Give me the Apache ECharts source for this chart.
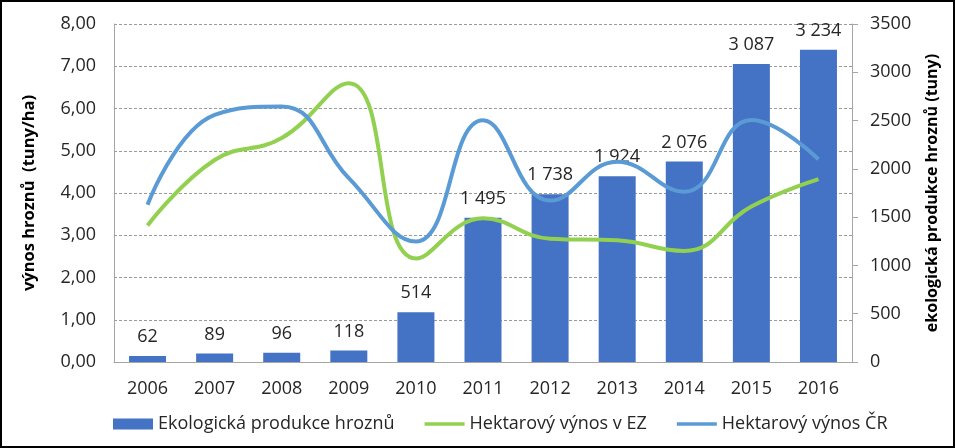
<!DOCTYPE html>
<html>
<head>
    <meta charset="utf-8">
    <script src="https://cdn.jsdelivr.net/npm/echarts@6/dist/echarts.min.js"></script>
    <style type="text/css">
        html, body { margin: 0; padding: 0; background: #fff; }
        #chart {
            width: 955px;
            height: 448px;
            box-sizing: border-box;
            border: 2px solid #000;
        }
    </style>
</head>
<body>
<div id="chart"></div>
<script type="text/javascript">
    // roky
    var years = ['2006', '2007', '2008', '2009', '2010', '2011', '2012', '2013', '2014', '2015', '2016'];
    // ekologická produkce hroznů (tuny) - pravá osa
    var produkce = [62, 89, 96, 118, 514, 1495, 1738, 1924, 2076, 3087, 3234];
    // hektarový výnos v EZ (tuny/ha)
    var vynosEZ = [3.23, 4.78, 5.30, 6.60, 2.45, 3.40, 2.92, 2.88, 2.63, 3.68, 4.33];
    // hektarový výnos ČR (tuny/ha)
    var vynosCR = [3.72, 5.85, 6.05, 4.35, 2.85, 5.72, 3.82, 4.74, 4.03, 5.73, 4.80];

    var font = 'Open Sans';
    var textColor = '#262626';
    // tenká čára jako ikona legendy
    var lineIcon = 'path://M0,0L40,0L40,3.5L0,3.5Z';

    function carka(v) {
        return v.toFixed(2).replace('.', ',');
    }
    function tisice(v) {
        return String(v).replace(/\B(?=(\d{3})+(?!\d))/g, ' ');
    }

    var myChart = echarts.init(document.getElementById('chart'));
    myChart.setOption({
        animation: false,
        textStyle: { fontFamily: font },
        grid: { left: 112, right: 101, top: 22, bottom: 84 },
        legend: {
            bottom: 8,
            left: 106,
            itemGap: 30,
            itemWidth: 40,
            itemHeight: 11,
            textStyle: { fontFamily: font, fontSize: 18, color: textColor },
            data: [
                { name: 'Ekologická produkce hroznů', icon: 'rect' },
                { name: 'Hektarový výnos v EZ', icon: lineIcon },
                { name: 'Hektarový výnos ČR', icon: lineIcon }
            ]
        },
        xAxis: {
            type: 'category',
            data: years,
            axisLine: { lineStyle: { color: '#a6a6a6', width: 1 } },
            axisTick: { show: false },
            axisLabel: { fontSize: 18, color: textColor, margin: 18 }
        },
        yAxis: [
            {
                type: 'value',
                min: 0, max: 8, interval: 1,
                name: 'výnos hroznů  (tuny/ha)',
                nameLocation: 'middle',
                nameGap: 76,
                nameTextStyle: { fontSize: 16.5, fontWeight: 'bold', color: '#000' },
                axisLine: { show: true, lineStyle: { color: '#a6a6a6' } },
                axisTick: { show: false },
                axisLabel: { fontSize: 18, color: textColor, margin: 18, formatter: carka },
                splitLine: { lineStyle: { color: '#9a9a9a', type: [3, 2], width: 1 } }
            },
            {
                type: 'value',
                min: 0, max: 3500, interval: 500,
                name: 'ekologická produkce hroznů (tuny)',
                nameLocation: 'middle',
                nameGap: 72,
                nameTextStyle: { fontSize: 16, fontWeight: 'bold', color: '#000' },
                position: 'right',
                axisLine: { show: true, lineStyle: { color: '#a6a6a6' } },
                axisTick: { show: true, inside: false, length: 6, lineStyle: { color: '#a6a6a6' } },
                axisLabel: { fontSize: 18, color: textColor, margin: 18, formatter: function (v) { return String(v); } },
                splitLine: { show: false }
            }
        ],
        series: [
            {
                name: 'Ekologická produkce hroznů',
                type: 'bar',
                yAxisIndex: 1,
                data: produkce,
                barWidth: 37,
                itemStyle: { color: '#4472c4' },
                label: {
                    show: true,
                    position: 'top',
                    distance: 10,
                    fontSize: 18,
                    color: textColor,
                    formatter: function (p) { return tisice(p.value); }
                },
                z: 2
            },
            {
                name: 'Hektarový výnos v EZ',
                type: 'line',
                yAxisIndex: 0,
                data: vynosEZ,
                smooth: 0.45,
                showSymbol: false,
                symbol: 'none',
                lineStyle: { color: '#92d050', width: 4 },
                itemStyle: { color: '#92d050' },
                z: 3
            },
            {
                name: 'Hektarový výnos ČR',
                type: 'line',
                yAxisIndex: 0,
                data: vynosCR,
                smooth: 0.45,
                showSymbol: false,
                symbol: 'none',
                lineStyle: { color: '#5b9bd5', width: 4 },
                itemStyle: { color: '#5b9bd5' },
                z: 4
            }
        ]
    });
</script>
</body>
</html>
